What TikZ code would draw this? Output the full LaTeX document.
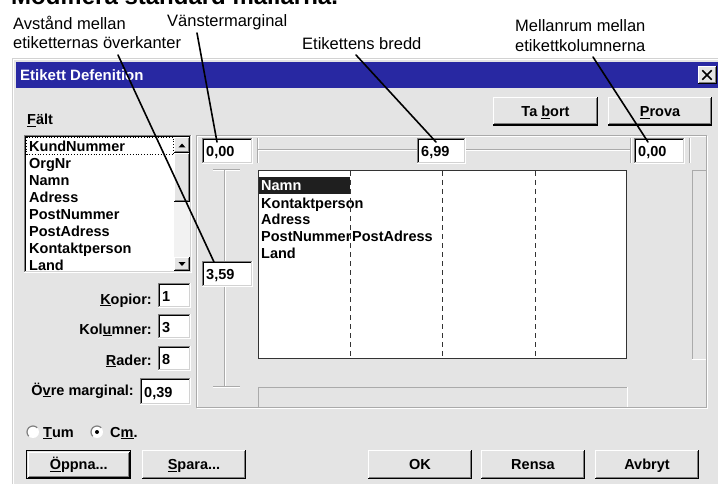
\documentclass[tikz,border=0pt]{standalone}
\usepackage{fontspec}
\setmainfont{Liberation Sans}
\definecolor{dlgbg}{RGB}{228,228,228}
\definecolor{titleblue}{RGB}{40,40,162}
\definecolor{midgray}{RGB}{128,128,128}
\definecolor{etchgray}{RGB}{170,170,170}
\definecolor{lightedge}{RGB}{210,210,210}
\definecolor{track}{RGB}{242,242,242}
\newcommand\annfont{\fontsize{16.5}{19}\selectfont}
\newcommand\dlgfont{\fontsize{14.5}{17}\selectfont\bfseries}
% sunken edit box: name x1 y1 x2 y2 text
\newcommand\sunkenbox[6]{%
  \fill[white] (#2,#3) rectangle (#4,#5);
  \draw[midgray,line width=1pt] (#2+0.5,#5) -- (#2+0.5,#3+0.5) -- (#4,#3+0.5);
  \draw[black,line width=1pt] (#2+1.5,#5-1) -- (#2+1.5,#3+1.5) -- (#4-1,#3+1.5);
  \draw[lightedge,line width=1pt] (#2+1,#5-1.5) -- (#4-1.5,#5-1.5) -- (#4-1.5,#3+1);
  \draw[white,line width=1pt] (#2,#5-0.5) -- (#4-0.5,#5-0.5) -- (#4-0.5,#3);
  \node[dlg] (#1) at (#2+4,{(#3+#5)/2+5.5}) {#6};
}
% raised button: name x1 y1 x2 y2 label
\newcommand\winbutton[6]{%
  \fill[dlgbg] (#2,#3) rectangle (#4,#5);
  \draw[white,line width=1pt] (#2+0.5,#5-1) -- (#2+0.5,#3+0.5) -- (#4-1,#3+0.5);
  \draw[black,line width=1.5pt] (#2,#5-0.75) -- (#4-0.75,#5-0.75) -- (#4-0.75,#3);
  \draw[midgray,line width=1pt] (#2+1,#5-2) -- (#4-2,#5-2) -- (#4-2,#3+1);
  \node[btn] (#1) at ({(#2+#4)/2},{(#3+#5)/2+5}) {#6};
}
% plain raised box (no label)
\newcommand\raisedrect[4]{%
  \fill[dlgbg] (#1,#2) rectangle (#3,#4);
  \draw[white,line width=1pt] (#1+0.5,#4-1) -- (#1+0.5,#2+0.5) -- (#3-1,#2+0.5);
  \draw[black,line width=1pt] (#1,#4-0.5) -- (#3-0.5,#4-0.5) -- (#3-0.5,#2);
  \draw[midgray,line width=1pt] (#1+1,#4-1.5) -- (#3-1.5,#4-1.5) -- (#3-1.5,#2+1);
}
\newcommand\etchH[3]{% y x1 x2
  \draw[etchgray,line width=1pt] (#2,#1+0.5) -- (#3,#1+0.5);
  \draw[white,line width=1pt] (#2,#1+1.5) -- (#3,#1+1.5);
}
\newcommand\etchV[3]{% x y1 y2
  \draw[etchgray,line width=1pt] (#1+0.5,#2) -- (#1+0.5,#3);
  \draw[white,line width=1pt] (#1+1.5,#2) -- (#1+1.5,#3);
}
\begin{document}
\begin{tikzpicture}[x=1pt,y=-1pt,
  ann/.style={font=\annfont, anchor=base west, inner sep=0pt},
  dlg/.style={font=\dlgfont, anchor=base west, inner sep=0pt},
  dlgr/.style={font=\dlgfont, anchor=base east, inner sep=0pt},
  btn/.style={font=\dlgfont, anchor=base, inner sep=0pt},
  leader/.style={line width=1.6pt, black, line cap=round}]
\useasboundingbox (0,0) rectangle (718,484);
\fill[white] (0,0) rectangle (718,484);

% cut-off heading at the very top
\begin{scope}
  \clip (0,0) rectangle (718,484);
  \node[font=\fontsize{24}{28}\selectfont\bfseries, anchor=base west, inner sep=0pt] (head) at (11,5) {Modifiera standard mallarna.};
\end{scope}

% annotations
\node[ann] (a1a) at (13,30) {Avstånd mellan};
\node[ann] (a1b) at (13,49) {etiketternas överkanter};
\node[ann] (a2) at (167,27) {Vänstermarginal};
\node[ann] (a3) at (302,50) {Etikettens bredd};
\node[ann] (a4a) at (515,32) {Mellanrum mellan};
\node[ann] (a4b) at (515,52) {etikettkolumnerna};

% dialog body
\fill[dlgbg] (12,58) rectangle (718,484);
\draw[lightedge,line width=1pt] (12.5,484) -- (12.5,58.5) -- (718,58.5);
\draw[white,line width=1pt] (13.5,484) -- (13.5,59.5) -- (718,59.5);
\fill[titleblue] (16,62) rectangle (718,88);
\node[dlg, text=white, font=\fontsize{15}{18}\selectfont\bfseries] (title) at (20,81) {Etikett Defenition};
\raisedrect{698}{66}{717}{84}
\node[inner sep=0pt, minimum size=9pt] (closex) at (707,75) {};
\draw[black,line width=1.6pt] (closex.north west) -- (closex.south east);
\draw[black,line width=1.6pt] (closex.north east) -- (closex.south west);

% buttons top
\winbutton{tabort}{493}{97}{598}{126}{Ta \underline{b}ort}
\winbutton{prova}{608}{97}{712}{126}{\underline{P}rova}

% field list
\node[dlg] (falt) at (27,125) {\underline{F}ält};
\sunkenbox{list}{24}{135}{192}{273}{}
\fill[track] (174,153) rectangle (190,258);
\raisedrect{174}{137}{190}{153}
\raisedrect{174}{153}{190}{202}
\raisedrect{174}{257}{190}{271}
\fill[black] (178.5,147.5) -- (185.5,147.5) -- (182,143.5) -- cycle;
\fill[black] (178.5,262) -- (185.5,262) -- (182,266) -- cycle;
\foreach \t [count=\i from 0] in {KundNummer,OrgNr,Namn,Adress,PostNummer,PostAdress,Kontaktperson,Land}{
  \node[dlg] (item\i) at (29,{152+16.86*\i}) {\t};
}
\draw[black,dotted,line width=0.8pt] (26.5,137.5) rectangle (173.5,154.5);

% group frame
\draw[white,line width=1pt] (197.5,136.5) rectangle (707.5,408.5);
\draw[etchgray,line width=1pt] (196.5,135.5) rectangle (706.5,407.5);

% top ruler
\sunkenbox{vm}{202}{138}{253}{164}{0,00}
\etchV{257}{138}{163}
\etchH{149.5}{258}{417}
\sunkenbox{bredd}{417}{138}{466}{164}{6,99}
\etchH{149.5}{466}{630}
\etchV{630}{138}{163}
\sunkenbox{mr}{634}{138}{685}{164}{0,00}
\etchV{689}{138}{163}

% left ruler
\etchH{169}{213}{240}
\etchV{224}{170}{261}
\sunkenbox{avst}{202}{261}{253}{287}{3,59}
\etchV{224}{287}{387}
\etchH{386}{213}{240}

% preview
\fill[white] (258,170) rectangle (627,359);
\fill[black!88] (258,177) rectangle (350,194);
\node[dlg, text=white] (p1) at (261,191) {Namn};
\node[dlg] (p2) at (261,208) {Kontaktperson};
\node[dlg] (p3) at (261,225) {Adress};
\begin{scope}
  \clip (258,170) rectangle (350,359);
  \node[dlg] (p4) at (261,241) {PostNummer};
\end{scope}
\node[dlg] (p4b) at (352,241) {PostAdress};
\node[dlg] (p5) at (261,258) {Land};
\foreach \x in {350.5,442.5,535.5}{
  \draw[black!80,line width=1pt,dash pattern=on 5pt off 4pt] (\x,171) -- (\x,358);
}
\draw[black!80,line width=1.2pt] (258.5,170.5) rectangle (626.5,358.5);

% right track and bottom track
\draw[etchgray,line width=1pt] (692.5,359) -- (692.5,170.5) -- (706,170.5);
\draw[white,line width=1pt] (692,359.5) -- (706,359.5);
\draw[etchgray,line width=1pt] (258.5,408) -- (258.5,387.5) -- (627,387.5);
\draw[white,line width=1pt] (627.5,387) -- (627.5,407);

% left fields
\node[dlgr] (lkop) at (152,304) {\underline{K}opior:};
\sunkenbox{kop}{158}{283}{191}{308}{1}
\node[dlgr] (lkol) at (152,334) {Kol\underline{u}mner:};
\sunkenbox{kol}{158}{314}{191}{339}{3}
\node[dlgr] (lrad) at (152,365) {\underline{R}ader:};
\sunkenbox{rad}{158}{346}{191}{371}{8}
\node[dlgr] (lovre) at (134,395) {Ö\underline{v}re marginal:};
\sunkenbox{ovre}{140}{378}{191}{405}{0,39}

% radio buttons
\fill[white] (33,432) circle (6);
\draw[midgray,line width=1.2pt] (33,432) ++(135:6) arc (135:315:6);
\fill[white] (97,432) circle (6);
\draw[midgray,line width=1.2pt] (97,432) ++(135:6) arc (135:315:6);
\fill[black] (97,432) circle (2);
\node[dlg] (tum) at (43,437) {\underline{T}um};
\node[dlg] (cm) at (110,437) {C\underline{m}.};

% bottom buttons
\draw[black,line width=1pt] (26.5,450.5) rectangle (130.5,478.5);
\winbutton{oppna}{27.5}{451.5}{130}{478}{\underline{Ö}ppna...}
\winbutton{spara}{142}{450}{246}{479}{\underline{S}para...}
\winbutton{ok}{368}{450}{472}{479}{OK}
\winbutton{rensa}{481}{450}{585}{479}{Rensa}
\winbutton{avbryt}{595}{450}{699}{479}{Avbryt}

% leader lines
\coordinate (l1s) at (118,55);
\coordinate (l1e) at (214,262);
\coordinate (l2s) at (197,33);
\coordinate (l2e) at (217,142);
\coordinate (l3s) at (356,55);
\coordinate (l3e) at (436,142);
\coordinate (l4s) at (593,57);
\coordinate (l4e) at (648,142);
\draw[leader] (l1s) -- (l1e);
\draw[leader] (l2s) -- (l2e);
\draw[leader] (l3s) -- (l3e);
\draw[leader] (l4s) -- (l4e);
\end{tikzpicture}
\end{document}
